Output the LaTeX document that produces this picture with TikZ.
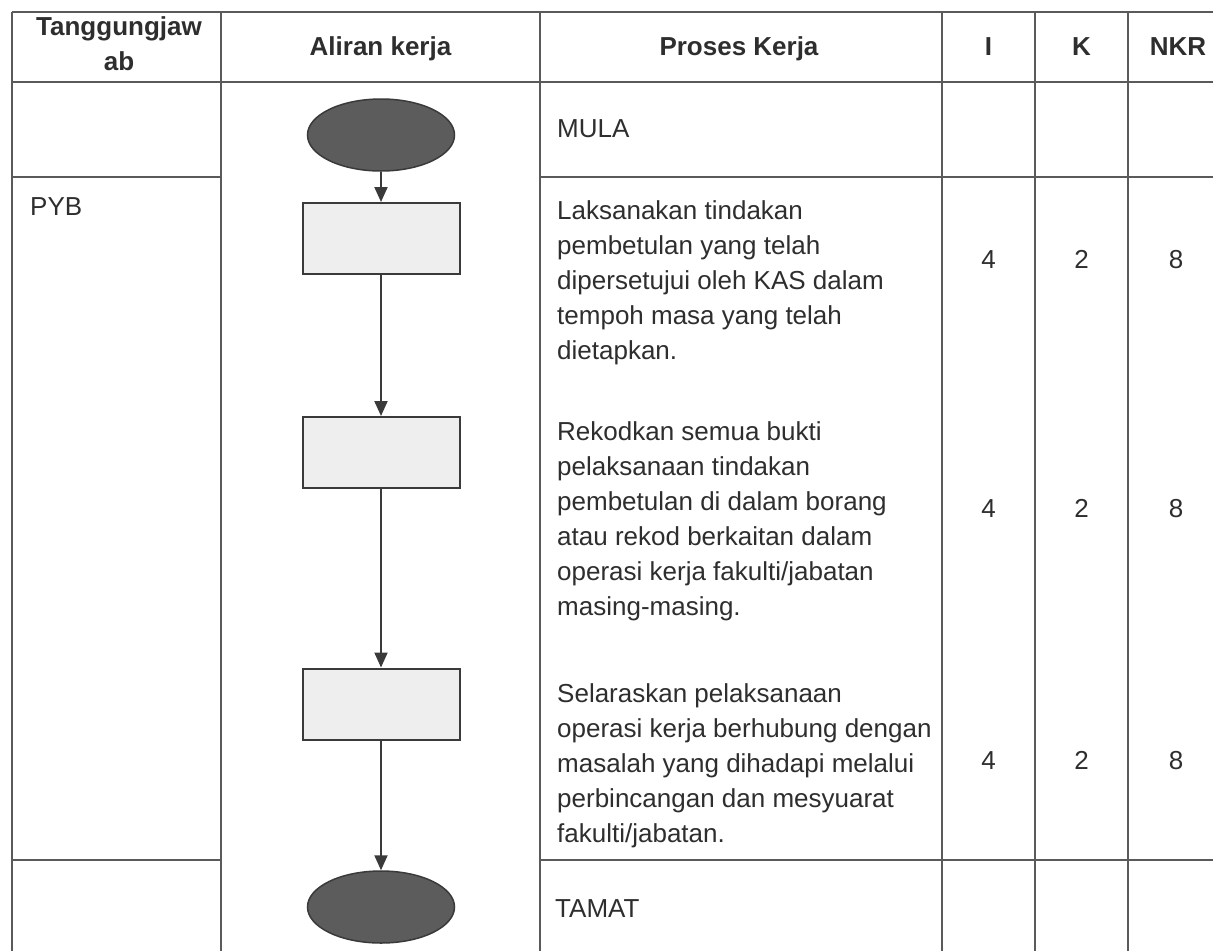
\documentclass[tikz,border=0pt]{standalone}
\usepackage{fontspec}
\setmainfont{Liberation Sans}
\usetikzlibrary{arrows.meta,shapes.geometric}
\definecolor{gridc}{HTML}{5A5A5A}
\definecolor{boxfill}{HTML}{EEEEEE}
\definecolor{ovalfill}{HTML}{5C5C5C}
\definecolor{inkc}{HTML}{3A3A3A}
\definecolor{textc}{HTML}{2E2E2E}
\newcommand{\plines}[1]{\begin{tabular}[t]{@{}l@{}}#1\end{tabular}}
\newcommand{\clines}[1]{\begin{tabular}[t]{@{}c@{}}#1\end{tabular}}
\tikzset{
  gridline/.style={draw=gridc, line width=1.3pt},
  procbox/.style={rectangle, draw=inkc, line width=2pt, fill=boxfill, minimum width=157pt, minimum height=71pt, inner sep=0pt},
  terminal/.style={ellipse, draw=inkc, line width=1.5pt, fill=ovalfill, minimum width=147pt, minimum height=72pt, inner sep=0pt},
  flow/.style={draw=inkc, line width=2pt, -{Triangle[length=15pt,width=13pt]}},
  bodytext/.style={font=\fontsize{26}{35}\selectfont, text=textc, inner sep=0pt, anchor=base west},
  numtext/.style={font=\fontsize{26}{35}\selectfont, text=textc, inner sep=0pt, anchor=base},
  headtext/.style={font=\bfseries\fontsize{26}{35}\selectfont, text=textc, inner sep=0pt, anchor=base}
}
\begin{document}
\begin{tikzpicture}[x=1pt,y=-1pt]
\useasboundingbox[fill=white] (0,0) rectangle (1213,951);
% table grid
\draw[gridline] (12,12) -- (1213,12);
\draw[gridline] (12,82) -- (1213,82);
\draw[gridline] (12,177) -- (221,177);
\draw[gridline] (540,177) -- (1213,177);
\draw[gridline] (12,860) -- (221,860);
\draw[gridline] (540,860) -- (1213,860);
\foreach \xx in {12,221,540,942,1035,1128} {
  \draw[gridline] (\xx,12) -- (\xx,951);
}
% headers
\node[headtext] (h1) at (119,35) {\clines{Tanggungjaw\\ab}};
\node[headtext] (h2) at (380.5,55) {Aliran kerja};
\node[headtext] (h3) at (739,55) {Proses Kerja};
\node[headtext] (h4) at (988.5,55) {I};
\node[headtext] (h5) at (1081.5,55) {K};
\node[headtext] (h6) at (1178,55) {NKR};
% responsibility
\node[bodytext] (pyb) at (30,215) {PYB};
% process texts
\node[bodytext] (mula) at (557,137) {MULA};
\node[bodytext] (p1) at (557,219) {\plines{Laksanakan tindakan\\pembetulan yang telah\\dipersetujui oleh KAS dalam\\tempoh masa yang telah\\dietapkan.}};
\node[bodytext] (p2) at (557,440) {\plines{Rekodkan semua bukti\\pelaksanaan tindakan\\pembetulan di dalam borang\\atau rekod berkaitan dalam\\operasi kerja fakulti/jabatan\\masing-masing.}};
\node[bodytext] (p3) at (557,702) {\plines{Selaraskan pelaksanaan\\operasi kerja berhubung dengan\\masalah yang dihadapi melalui\\perbincangan dan mesyuarat\\fakulti/jabatan.}};
\node[bodytext] (tamat) at (555,917) {TAMAT};
% scores
\node[numtext] (i1) at (988.5,268) {4};
\node[numtext] (k1) at (1081.5,268) {2};
\node[numtext] (n1) at (1176,268) {8};
\node[numtext] (i2) at (988.5,517) {4};
\node[numtext] (k2) at (1081.5,517) {2};
\node[numtext] (n2) at (1176,517) {8};
\node[numtext] (i3) at (988.5,769) {4};
\node[numtext] (k3) at (1081.5,769) {2};
\node[numtext] (n3) at (1176,769) {8};
% flow
\node[terminal] (start) at (381,135) {};
\node[procbox] (b1) at (381,238.5) {};
\node[procbox] (b2) at (381,452.5) {};
\node[procbox] (b3) at (381,704) {};
\node[terminal] (stop) at (381,907) {};
\draw[flow] (start) -- (b1);
\draw[flow] (b1) -- (b2);
\draw[flow] (b2) -- (b3);
\draw[flow] (b3) -- (stop);
\end{tikzpicture}
\end{document}
